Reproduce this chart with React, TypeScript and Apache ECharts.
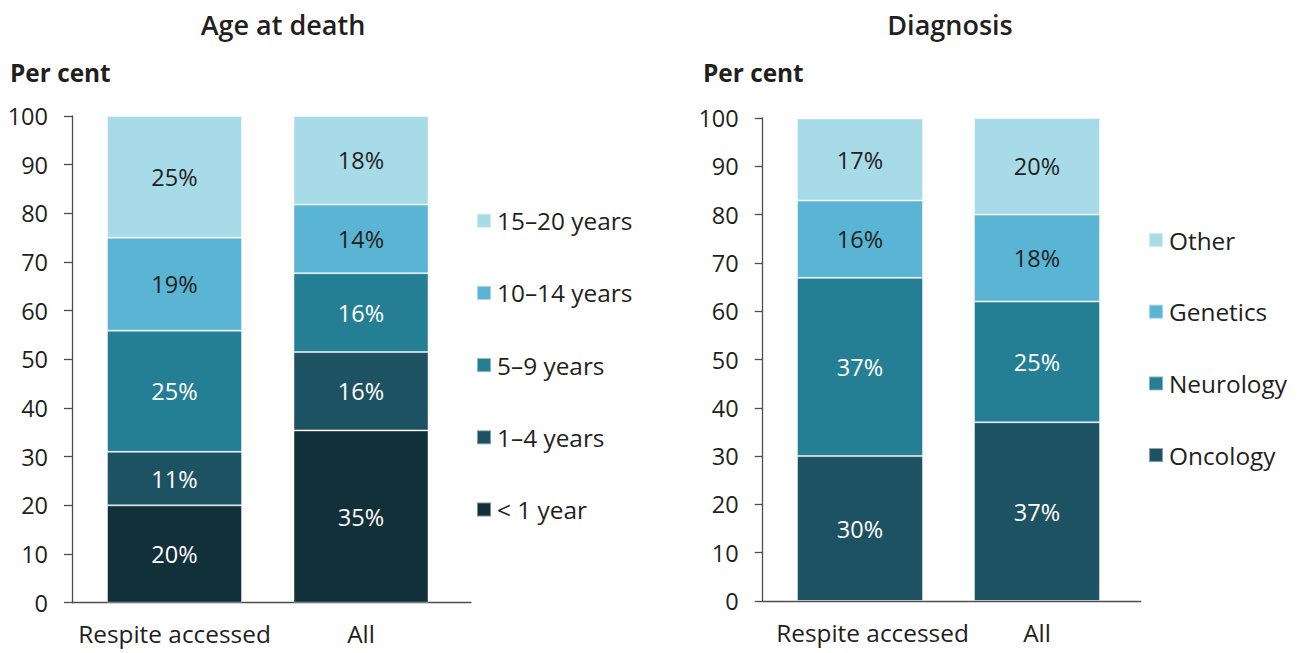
import React, { useEffect, useRef } from "react";
import * as echarts from "echarts";

const categories = ["Respite accessed", "All"];

const ageGroups = ["< 1 year", "1–4 years", "5–9 years", "10–14 years", "15–20 years"];
const ageUnder1 = [20.0, 35.4];
const age1to4 = [11.0, 16.1];
const age5to9 = [24.9, 16.2];
const age10to14 = [19.1, 14.1];
const age15to20 = [25.0, 18.2];
const ageValues = [ageUnder1, age1to4, age5to9, age10to14, age15to20];

const diagGroups = ["Oncology", "Neurology", "Genetics", "Other"];
const diagOncology = [30.0, 37.0];
const diagNeurology = [36.9, 25.0];
const diagGenetics = [16.0, 18.0];
const diagOther = [17.0, 20.0];
const diagValues = [diagOncology, diagNeurology, diagGenetics, diagOther];

const yTicks = [0, 10, 20, 30, 40, 50, 60, 70, 80, 90, 100];

const ageColors = ["#12303a", "#1d5263", "#247f95", "#5ab4d3", "#a8dbe8"];
const diagColors = ["#1d5263", "#247f95", "#5ab4d3", "#a8dbe8"];
const ageLabelColors = ["#ffffff", "#ffffff", "#ffffff", "#231f20", "#231f20"];
const diagLabelColors = ["#ffffff", "#ffffff", "#231f20", "#231f20"];

const FONT = "Open Sans";
const TEXT = "#231f20";
const AXIS = "#4d4d4d";

export default function App() {
  const ref = useRef<HTMLDivElement>(null);

  useEffect(() => {
    document.body.style.margin = "0";
    if (!ref.current) return;
    const chart = echarts.init(ref.current, undefined, { renderer: "svg" });

    const valueAxis = (gridIndex: number, visible: boolean) => ({
      type: "value",
      gridIndex,
      min: yTicks[0],
      max: yTicks[yTicks.length - 1],
      interval: yTicks[1] - yTicks[0],
      show: visible,
      splitLine: { show: false },
      axisLine: { show: visible, lineStyle: { color: AXIS, width: 1.3 } },
      axisTick: { show: visible, length: 8, lineStyle: { color: AXIS, width: 1.3 } },
      axisLabel: {
        show: visible,
        margin: 24,
        color: TEXT,
        fontFamily: FONT,
        fontSize: 23.5,
      },
    });

    const barSeries = (
      names: string[],
      values: number[][],
      colors: string[],
      labelColors: string[],
      xIdx: number,
      stack: string,
      width: number
    ) =>
      names.map((name, i) => ({
        name,
        type: "bar",
        stack,
        xAxisIndex: xIdx,
        yAxisIndex: xIdx,
        barWidth: width,
        data: values[i],
        itemStyle: {
          color: colors[i],
          borderColor: "rgba(255,255,255,0.45)",
          borderWidth: 1,
        },
        label: {
          show: true,
          position: "inside",
          formatter: (p: any) => Math.round(p.value) + "%",
          color: labelColors[i],
          fontFamily: FONT,
          fontSize: 23.5,
        },
      }));

    const catAxisLabel = { margin: 19, color: TEXT, fontFamily: FONT, fontSize: 24.4, interval: 0 };
    const catAxisLabelRight = {
      ...catAxisLabel,
      formatter: (v: string, i: number) => (i === 0 ? "{s|" + v + "}" : v),
      rich: {
        s: { fontFamily: FONT, fontSize: 24.4, color: TEXT, padding: [0, 0, 0, 25] },
      },
    };

    const option: any = {
      animation: false,
      backgroundColor: "#ffffff",
      textStyle: { fontFamily: FONT },
      title: [
        {
          text: "Age at death",
          left: 283,
          top: 7,
          textAlign: "center",
          padding: 0,
          textStyle: { fontFamily: FONT, fontSize: 27, fontWeight: 600, color: TEXT, lineHeight: 34 },
        },
        {
          text: "Diagnosis",
          left: 950,
          top: 7,
          textAlign: "center",
          padding: 0,
          textStyle: { fontFamily: FONT, fontSize: 27, fontWeight: 600, color: TEXT, lineHeight: 34 },
        },
        {
          text: "Per cent",
          left: 10,
          top: 57,
          padding: 0,
          textStyle: { fontFamily: FONT, fontSize: 24.4, fontWeight: "bold", color: TEXT, lineHeight: 30 },
        },
        {
          text: "Per cent",
          left: 703,
          top: 57,
          padding: 0,
          textStyle: { fontFamily: FONT, fontSize: 24.4, fontWeight: "bold", color: TEXT, lineHeight: 30 },
        },
      ],
      legend: [
        {
          orient: "vertical",
          left: 476,
          top: 208.7,
          padding: 0,
          itemWidth: 14,
          itemHeight: 14,
          itemGap: 48.2,
          icon: "rect",
          selectedMode: false,
          data: [...ageGroups].reverse(),
          textStyle: { fontFamily: FONT, fontSize: 24.4, color: TEXT, lineHeight: 24, padding: [0, 0, 0, 1] },
        },
        {
          orient: "vertical",
          left: 1148,
          top: 228,
          padding: 0,
          itemWidth: 14,
          itemHeight: 14,
          itemGap: 47.7,
          icon: "rect",
          selectedMode: false,
          data: [...diagGroups].reverse(),
          textStyle: { fontFamily: FONT, fontSize: 24.4, color: TEXT, lineHeight: 24, padding: [0, 0, 0, 1] },
        },
      ],
      grid: [
        { left: 81.25, width: 373, top: 116, height: 486.7 },
        { left: 771.5, width: 354, top: 118, height: 483 },
        { left: 72, width: 399, top: 116, height: 486.7 },
        { left: 762.7, width: 378, top: 118, height: 483 },
      ],
      xAxis: [
        {
          type: "category",
          gridIndex: 0,
          data: categories,
          axisLine: { show: false },
          axisTick: { show: false },
          axisLabel: catAxisLabel,
        },
        {
          type: "category",
          gridIndex: 1,
          data: categories,
          axisLine: { show: false },
          axisTick: { show: false },
          axisLabel: catAxisLabelRight,
        },
        {
          type: "category",
          gridIndex: 2,
          data: categories,
          axisLine: { show: true, lineStyle: { color: AXIS, width: 1.3 } },
          axisTick: { show: false },
          axisLabel: { show: false },
        },
        {
          type: "category",
          gridIndex: 3,
          data: categories,
          axisLine: { show: true, lineStyle: { color: AXIS, width: 1.3 } },
          axisTick: { show: false },
          axisLabel: { show: false },
        },
      ],
      yAxis: [valueAxis(0, false), valueAxis(1, false), valueAxis(2, true), valueAxis(3, true)],
      series: [
        ...barSeries(ageGroups, ageValues, ageColors, ageLabelColors, 0, "age", 135),
        ...barSeries(diagGroups, diagValues, diagColors, diagLabelColors, 1, "diag", 126),
      ],
    };

    chart.setOption(option);
    return () => chart.dispose();
  }, []);

  return <div ref={ref} style={{ width: 1299, height: 653 }} />;
}
